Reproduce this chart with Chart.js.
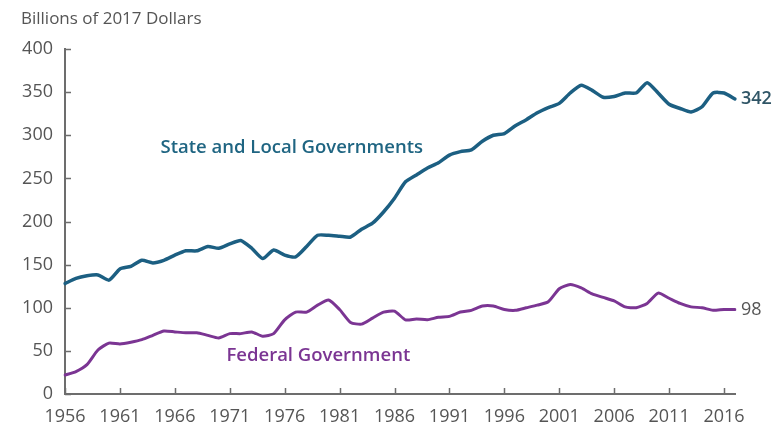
<!DOCTYPE html>
<html>
<head>
<meta charset="utf-8">
<script src="https://cdn.jsdelivr.net/npm/chart.js@4.4.0/dist/chart.umd.min.js"></script>
<style>
  body { margin: 0; background: #fff; }
  #wrap { position: relative; width: 779px; height: 422px; }
  #unit { position: absolute; left: 21px; top: 6px; font: 17px "Open Sans", sans-serif; color: #555; }
</style>
</head>
<body>
<div id="wrap">
  <canvas id="govChart" width="779" height="422"></canvas>
  <div id="unit">Billions of 2017 Dollars</div>
</div>
<script>
const years = [
  '1956', '1957', '1958', '1959', '1960', '1961', '1962', '1963', '1964', '1965',
  '1966', '1967', '1968', '1969', '1970', '1971', '1972', '1973', '1974', '1975',
  '1976', '1977', '1978', '1979', '1980', '1981', '1982', '1983', '1984', '1985',
  '1986', '1987', '1988', '1989', '1990', '1991', '1992', '1993', '1994', '1995',
  '1996', '1997', '1998', '1999', '2000', '2001', '2002', '2003', '2004', '2005',
  '2006', '2007', '2008', '2009', '2010', '2011', '2012', '2013', '2014', '2015',
  '2016', '2017'
];
const tickYears = ['1956', '1961', '1966', '1971', '1976', '1981', '1986', '1991', '1996', '2001', '2006', '2011', '2016'];

const stateLocal = [
  128, 134, 137, 138, 132, 145, 148, 155, 152, 155,
  161, 166, 166, 171, 169, 174, 178, 169, 157, 167,
  161, 159, 171, 184, 184, 183, 182, 191, 198, 211,
  227, 246, 254, 262, 268, 277, 281, 283, 293, 300,
  302, 311, 318, 326, 332, 337, 349, 358, 352, 344,
  345, 349, 349, 361, 349, 336, 331, 327, 333, 349,
  349, 342
];
const federal = [
  22, 26, 34, 51, 59, 58, 60, 63, 68, 73,
  72, 71, 71, 68, 65, 70, 70, 72, 67, 70,
  86, 95, 95, 103, 109, 98, 83, 81, 88, 95,
  96, 86, 87, 86, 89, 90, 95, 97, 102, 102,
  98, 97, 100, 103, 107, 122, 127, 123, 116, 112,
  108, 101, 100, 105, 117, 111, 105, 101, 100, 97,
  98, 98
];
const endLabels = ['342', '98'];

const BLUE = '#1c5f82';
const PURPLE = '#7b3593';
const FONT = '"Open Sans", sans-serif';

// series names sit inside the plot, at (year index, value)
const seriesNames = [
  { text: 'State and Local Governments', at: [8.7, 286], color: '#1f6582' },
  { text: 'Federal Government', at: [14.7, 44], color: PURPLE }
];

const decorate = {
  id: 'decorate',
  afterDatasetsDraw(chart) {
    const { ctx, scales: { x, y } } = chart;
    ctx.save();
    // inward tick marks
    ctx.strokeStyle = '#6d6d6d';
    ctx.lineWidth = 1.5;
    ctx.beginPath();
    for (let v = 0; v <= 400; v += 50) {
      const py = Math.round(y.getPixelForValue(v)) + 0.5;
      ctx.moveTo(x.left, py);
      ctx.lineTo(x.left + 6, py);
    }
    tickYears.forEach(t => {
      const px = Math.round(x.getPixelForValue(years.indexOf(t))) + 0.5;
      ctx.moveTo(px, y.bottom);
      ctx.lineTo(px, y.bottom - 6);
    });
    ctx.stroke();

    ctx.font = '600 18.5px ' + FONT;
    ctx.textBaseline = 'middle';
    ctx.textAlign = 'left';
    seriesNames.forEach(s => {
      ctx.fillStyle = s.color;
      ctx.fillText(s.text, x.getPixelForValue(s.at[0]), y.getPixelForValue(s.at[1]));
    });

    const last = years.length - 1;
    ctx.font = '600 18px ' + FONT;
    ctx.fillStyle = '#2f5566';
    ctx.fillText(endLabels[0], x.getPixelForValue(last) + 6, y.getPixelForValue(stateLocal[last]));
    ctx.font = '18px ' + FONT;
    ctx.fillStyle = '#555';
    ctx.fillText(endLabels[1], x.getPixelForValue(last) + 6, y.getPixelForValue(federal[last]));
    ctx.restore();
  }
};

new Chart(document.getElementById('govChart'), {
  type: 'line',
  data: {
    labels: years,
    datasets: [
      { label: 'State and Local Governments', data: stateLocal, borderColor: BLUE, borderWidth: 3.5 },
      { label: 'Federal Government', data: federal, borderColor: PURPLE, borderWidth: 3 }
    ]
  },
  options: {
    responsive: false,
    animation: false,
    devicePixelRatio: 1,
    layout: { padding: { top: 49, right: 44, left: 0, bottom: 0 } },
    elements: {
      point: { radius: 0 },
      line: { tension: 0.2, borderJoinStyle: 'round', borderCapStyle: 'round' }
    },
    plugins: { legend: { display: false }, tooltip: { enabled: false } },
    scales: {
      x: {
        grid: { display: false },
        border: { display: true, color: '#6d6d6d', width: 2 },
        ticks: {
          autoSkip: false,
          maxRotation: 0,
          padding: 4,
          color: '#555',
          font: { family: FONT, size: 18 },
          callback(v) {
            const yr = years[v];
            return tickYears.includes(yr) ? yr : null;
          }
        },
        afterFit(scale) { scale.height = 28; }
      },
      y: {
        min: 0,
        max: 400,
        grid: { display: false },
        border: { display: true, color: '#6d6d6d', width: 2 },
        ticks: {
          stepSize: 50,
          padding: 4,
          color: '#555',
          font: { family: FONT, size: 18 }
        },
        afterFit(scale) { scale.width = 65; }
      }
    }
  },
  plugins: [decorate]
});
</script>
</body>
</html>
